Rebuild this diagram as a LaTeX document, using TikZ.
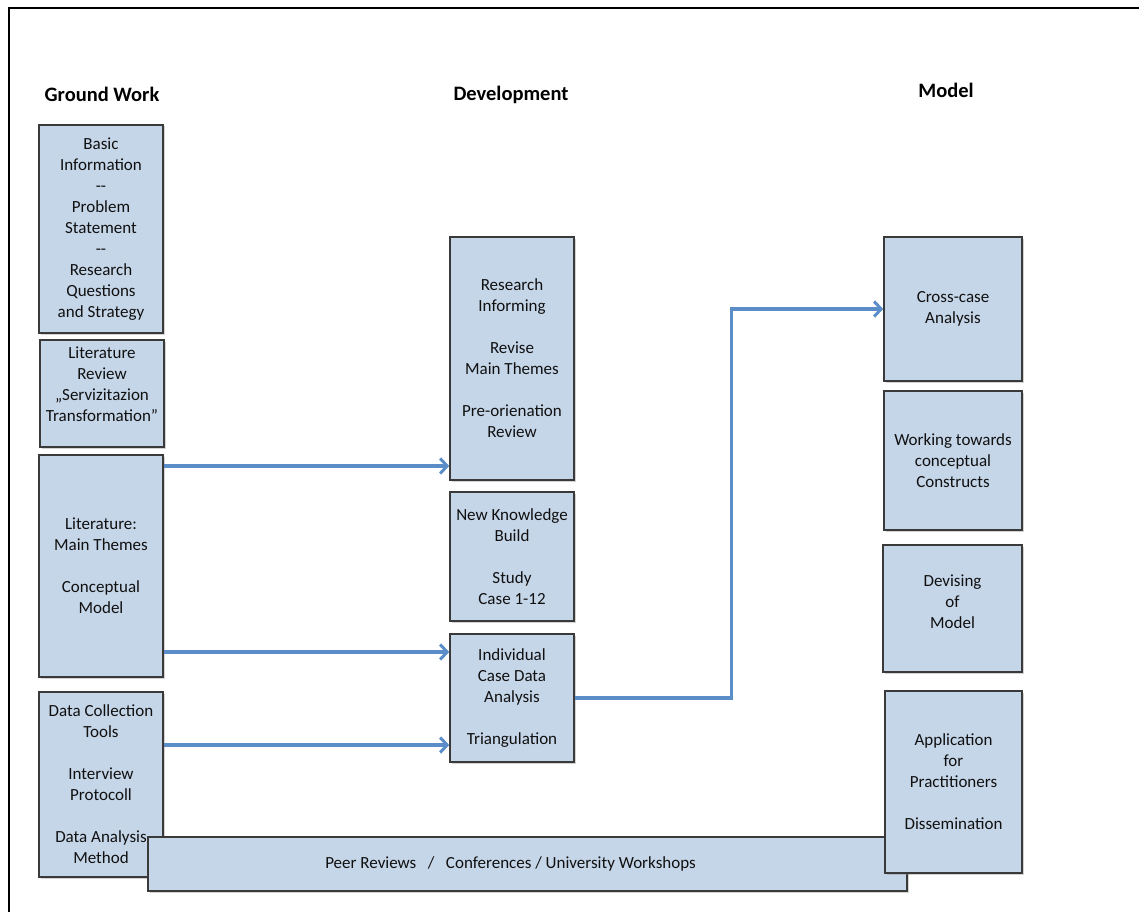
\documentclass[tikz,border=0pt]{standalone}
\usepackage{fontspec}
\setmainfont{Carlito}
\usetikzlibrary{arrows.meta,shadows}
\definecolor{boxfill}{HTML}{C6D6E9}
\definecolor{boxline}{HTML}{3A3A3A}
\definecolor{arrowblue}{HTML}{5B8DC9}
\definecolor{txt}{HTML}{101010}
\begin{document}
\begin{tikzpicture}[x=1pt,y=-1pt,
  box/.style={draw=boxline, line width=1.6pt, fill=boxfill, inner sep=0pt,
    align=center, text=txt, font=\fontsize{17}{21}\selectfont,
    drop shadow={shadow xshift=1.5pt, shadow yshift=-1.5pt, opacity=0.35}},
  heading/.style={font=\fontsize{20.5}{24}\selectfont\bfseries, text=black},
  arr/.style={draw=arrowblue, line width=3.2pt,
    -{Straight Barb[length=7pt,width=15pt,line width=3pt]}}]
\useasboundingbox (0,0) rectangle (1139,912);
% frame
\draw[line width=2pt] (9,912) -- (9,8) -- (1139,8);
% headings
\node[heading] (hgw) at (102,94) {Ground Work};
\node[heading] (hdev) at (511,95) {Development};
\node[heading] (hmod) at (946,90) {Model};
% left column
\node[box, minimum width=124, minimum height=208] (b1) at (101,229)
  {Basic\\Information\\-{}-\\Problem\\Statement\\-{}-\\Research\\Questions\\and Strategy};
\node[box, minimum width=124, minimum height=107] (b2) at (102,393.5)
  {Literature\\Review\\„Servizitazion\\Transformation”\\[-2pt]};
\node[box, minimum width=124, minimum height=222] (b3) at (101,566)
  {Literature:\\Main Themes\\[21pt]Conceptual\\Model};
\node[box, minimum width=124, minimum height=185] (b4) at (101,784.5)
  {Data Collection\\Tools\\[21pt]Interview\\Protocoll\\[21pt]Data Analysis\\Method\hspace*{0pt}};
% bottom bar
\node[box, minimum width=759, minimum height=54] (peer) at (527.5,864)
  {\hspace*{-34pt}Peer Reviews\ \ \ /\ \ \ Conferences / University Workshops};
% middle column
\node[box, minimum width=124, minimum height=243] (m1) at (512,358.5)
  {Research\\Informing\\[21pt]Revise\\Main Themes\\[21pt]Pre-orienation\\Review};
\node[box, minimum width=124, minimum height=129] (m2) at (512,556.5)
  {New Knowledge\\Build\\[21pt]Study\\Case 1-12};
\node[box, minimum width=124, minimum height=128] (m3) at (512,698)
  {Individual\\Case Data\\Analysis\\[21pt]Triangulation};
% right column
\node[box, minimum width=138, minimum height=144] (r1) at (953,309)
  {Cross-case\\Analysis};
\node[box, minimum width=138, minimum height=139] (r2) at (953,460.5)
  {Working towards\\conceptual\\Constructs};
\node[box, minimum width=139, minimum height=127] (r3) at (952.5,608.5)
  {Devising\\of\\Model\\[-8pt]};
\node[box, minimum width=137, minimum height=182] (r4) at (953.5,782)
  {Application\\for\\Practitioners\\[21pt]Dissemination};
% connectors
\draw[arr] (b3.east |- 0,466) -- (m1.west |- 0,466);
\draw[arr] (b3.east |- 0,652) -- (m3.west |- 0,652);
\draw[arr] (b4.east |- 0,745) -- (m3.west |- 0,745);
\draw[arr] (m3.east) -- ++(157,0) |- (r1.west);
\end{tikzpicture}
\end{document}
